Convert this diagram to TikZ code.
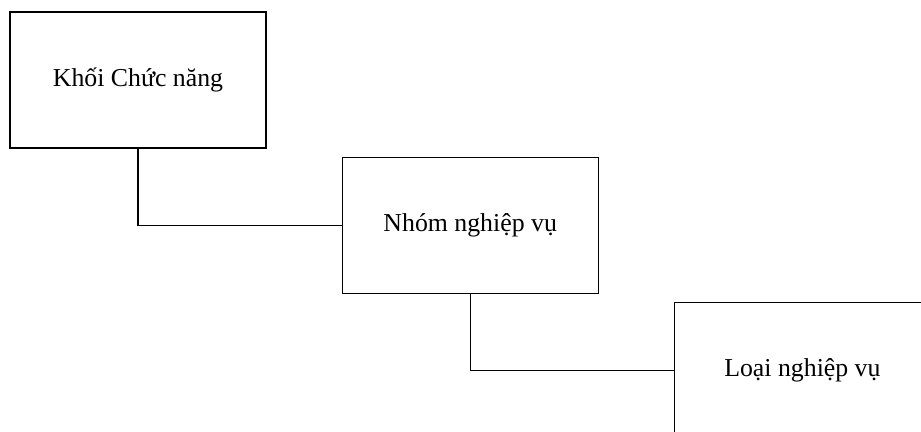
\documentclass[tikz,border=0pt]{standalone}
\usepackage{fontspec}
\setmainfont{Liberation Serif}
\usetikzlibrary{positioning}
\tikzset{
  block/.style={draw,line width=0.6pt,minimum width=128pt,minimum height=68pt,inner sep=0pt,font=\fontsize{12.9}{15}\selectfont},
  link/.style={line width=0.6pt}
}

\begin{document}
\begin{tikzpicture}
  % Fix the page to the reference size
  \useasboundingbox (0,0) rectangle (460.5pt,-216pt);

  % The three levels, each stepping down to the right
  \node [block] (khoi) at (69pt,-40pt) {Khối Chức năng};
  \node [block, below right=4pt and 37.5pt of khoi] (nhom) {Nhóm nghiệp vụ};
  \node [block, below right=4pt and 37.5pt of nhom] (loai) {Loại nghiệp vụ};

  % Elbow connectors
  \draw [link] (khoi.south) |- (nhom.west);
  \draw [link] (nhom.south) |- (loai.west);
\end{tikzpicture}
\end{document}
